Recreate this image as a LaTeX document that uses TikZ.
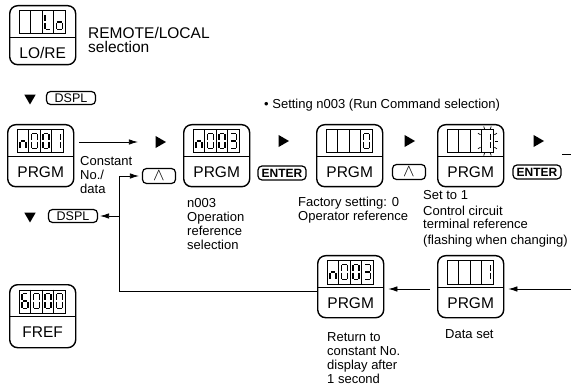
\documentclass[tikz,border=0pt]{standalone}
\usepackage{fontspec}
\setmainfont{Liberation Sans}
\usetikzlibrary{arrows.meta,calc,shapes.geometric}
\tikzset{
  psega/.pic={\draw[pseg] (0.9,0) -- (5.1,0);},
  psegb/.pic={\draw[pseg] (6,0.9) -- (6,6.6);},
  psegc/.pic={\draw[pseg] (6,8.4) -- (6,14.1);},
  psegd/.pic={\draw[pseg] (0.9,15) -- (5.1,15);},
  psege/.pic={\draw[pseg] (0,8.4) -- (0,14.1);},
  psegf/.pic={\draw[pseg] (0,0.9) -- (0,6.6);},
  psegg/.pic={\draw[pseg] (0.9,7.5) -- (5.1,7.5);}
}
\newcommand{\pPanel}[5]{% name, left, top, height, label
  \node[panel, minimum height=#4pt, anchor=north west] (#1) at (#2,#3) {};
  \draw[panelrule] ($(#1.north west)+(0,32.5)$) -- ($(#1.north east)+(0,32.5)$);
  \node[panellabel] (#1-lbl) at ($(#1.north)+(0,48)$) {#5};
  \node[pdisp, anchor=north] (#1-disp) at ($(#1.north)+(0,5.5)$) {};
  \foreach \i in {1,2,3}
    \draw[cellrule] ($(#1-disp.north west)+(11.5*\i,0)$) -- ($(#1-disp.south west)+(11.5*\i,0)$);
}
\newcommand{\pDigit}[3]{% panel, cell, segments
  \foreach \s in {#3}
    \pic at ($(#1-disp.north west)+(11.5*#2-8.75,4)$) {pseg\s};
}

\begin{document}
\begin{tikzpicture}[x=1pt,y=-1pt,
  panel/.style={draw, line width=1.4pt, rounded corners=8pt, minimum width=66pt, inner sep=0pt},
  panelrule/.style={line width=0.9pt},
  panellabel/.style={inner sep=0pt, font=\fontsize{15.5}{16}\selectfont},
  pdisp/.style={draw, line width=1pt, minimum width=46pt, minimum height=23pt, inner sep=0pt},
  cellrule/.style={line width=0.9pt},
  pseg/.style={line width=1.7pt},
  flashray/.style={line width=0.7pt},
  pkey/.style={draw, line width=1.2pt, rounded corners=4pt, inner sep=0pt, minimum height=13pt, font=\fontsize{12.5}{12.5}\selectfont},
  dsplkey/.style={pkey, minimum width=49pt},
  enterkey/.style={pkey, minimum width=48pt, minimum height=14pt, font=\fontsize{12}{12}\selectfont\bfseries},
  upkey/.style={pkey, minimum width=33pt, minimum height=15pt, font=\fontsize{16}{16}\selectfont},
  playmark/.style={regular polygon, regular polygon sides=3, shape border rotate=-90, fill, inner sep=0pt, minimum size=14pt},
  downmark/.style={regular polygon, regular polygon sides=3, shape border rotate=180, fill, inner sep=0pt, minimum size=13pt},
  txt/.style={anchor=base west, inner sep=0pt, font=\fontsize{13}{15}\selectfont},
  bigtxt/.style={txt, font=\fontsize{15.5}{17}\selectfont},
  flow/.style={-{Latex[length=9pt,width=5.5pt]}, line width=0.8pt},
  plain/.style={line width=0.8pt}]
\useasboundingbox (0,0) rectangle (571,385);

% panels
\pPanel{lore}{9}{5}{59}{LO/RE}
\pPanel{nOne}{7}{124}{62}{PRGM}
\pPanel{nThreeA}{183}{124}{62}{PRGM}
\pPanel{facSet}{316}{124}{62}{PRGM}
\pPanel{flashSet}{437}{124}{62}{PRGM}
\pPanel{nThreeB}{317}{255}{62}{PRGM}
\pPanel{dataSet}{437}{255}{62}{PRGM}
\pPanel{fref}{9}{284}{63}{FREF}

% digits
\pDigit{lore}{3}{d,e,f}
\pDigit{lore}{4}{c,d,e,g}
\pDigit{nOne}{1}{c,e,g}
\pDigit{nOne}{2}{a,b,c,d,e,f}
\pDigit{nOne}{3}{a,b,c,d,e,f}
\pDigit{nOne}{4}{b,c}
\pDigit{nThreeA}{1}{c,e,g}
\pDigit{nThreeA}{2}{a,b,c,d,e,f}
\pDigit{nThreeA}{3}{a,b,c,d,e,f}
\pDigit{nThreeA}{4}{a,b,c,d,g}
\pDigit{facSet}{4}{a,b,c,d,e,f}
\pDigit{flashSet}{4}{b,c}
\pDigit{nThreeB}{1}{c,e,g}
\pDigit{nThreeB}{2}{a,b,c,d,e,f}
\pDigit{nThreeB}{3}{a,b,c,d,e,f}
\pDigit{nThreeB}{4}{a,b,c,d,g}
\pDigit{dataSet}{4}{b,c}
\pDigit{fref}{1}{a,c,d,e,f,g}
\pDigit{fref}{2}{a,b,c,d,e,f}
\pDigit{fref}{3}{a,b,c,d,e,f}
\pDigit{fref}{4}{a,b,c,d,e,f}

% flashing digit
\coordinate (flashC) at ($(flashSet-disp.north west)+(40.25,11.5)$);
\foreach \a in {-150,-110,-70,-30,0,30,70,110,150}
  \draw[flashray] ($(flashC)+(\a:8 and 12.5)$) -- ($(flashC)+(\a:11 and 15.5)$);

% keys and marks
\node[downmark] (downA) at (30,98) {};
\node[dsplkey] (dsplA) at (71,98) {DSPL};
\node[downmark] (downB) at (30,216) {};
\node[dsplkey] (dsplB) at (73,216) {DSPL};
\node[playmark] (playA) at (159,142) {};
\node[upkey] (upA) at (159,176) {$\wedge$};
\node[playmark] (playB) at (282,141) {};
\node[enterkey] (enterA) at (282,173) {ENTER};
\node[playmark] (playC) at (408,141) {};
\node[upkey] (upB) at (409,172) {$\wedge$};
\node[playmark] (playD) at (537,141) {};
\node[enterkey] (enterB) at (537,172) {ENTER};

% texts
\node[bigtxt] (remA) at (88,38.5) {REMOTE/LOCAL};
\node[bigtxt] (remB) at (88,53) {selection};
\node[txt] (setHead) at (264,109) {\textbullet\ Setting n003 (Run Command selection)};
\node[txt] (constA) at (80,166) {Constant};
\node[txt] (constB) at (80,180) {No./};
\node[txt] (constC) at (80,194) {data};
\node[txt] (opA) at (187,208) {n003};
\node[txt] (opB) at (187,222) {Operation};
\node[txt] (opC) at (187,236) {reference};
\node[txt] (opD) at (187,250) {selection};
\node[txt] (facA) at (298,207) {Factory setting: 0};
\node[txt] (facB) at (298,221) {Operator reference};
\node[txt] (flA) at (423,200) {Set to 1};
\node[txt] (flB) at (423,215) {Control circuit};
\node[txt] (flC) at (423,229) {terminal reference};
\node[txt] (flD) at (423,244) {(flashing when changing)};
\node[txt] (retA) at (327,341) {Return to};
\node[txt] (retB) at (327,355) {constant No.};
\node[txt] (retC) at (327,369) {display after};
\node[txt] (retD) at (327,383) {1 second};
\node[txt] (dsTxt) at (445,338) {Data set};

% connectors
\coordinate (loopBot) at (119,291);
\coordinate (inR) at (571,289);
\coordinate (outL) at (562,154);
\coordinate (outR) at (571,154);
\draw[flow, shorten <=5pt, shorten >=4pt] (nOne.east |- playA) -- (upA.west |- playA);
\draw[flow, shorten >=3pt] (nThreeB.west |- loopBot) -- (loopBot) |- (upA.west);
\draw[flow, shorten >=2pt] (loopBot |- dsplB) -- (dsplB.east);
\draw[flow, shorten >=4pt] (inR) -- (dataSet.east |- inR);
\draw[flow, shorten <=7pt, shorten >=4pt] (dataSet.west |- inR) -- (nThreeB.east |- inR);
\draw[plain] (outL) -- (outR);
\end{tikzpicture}
\end{document}
